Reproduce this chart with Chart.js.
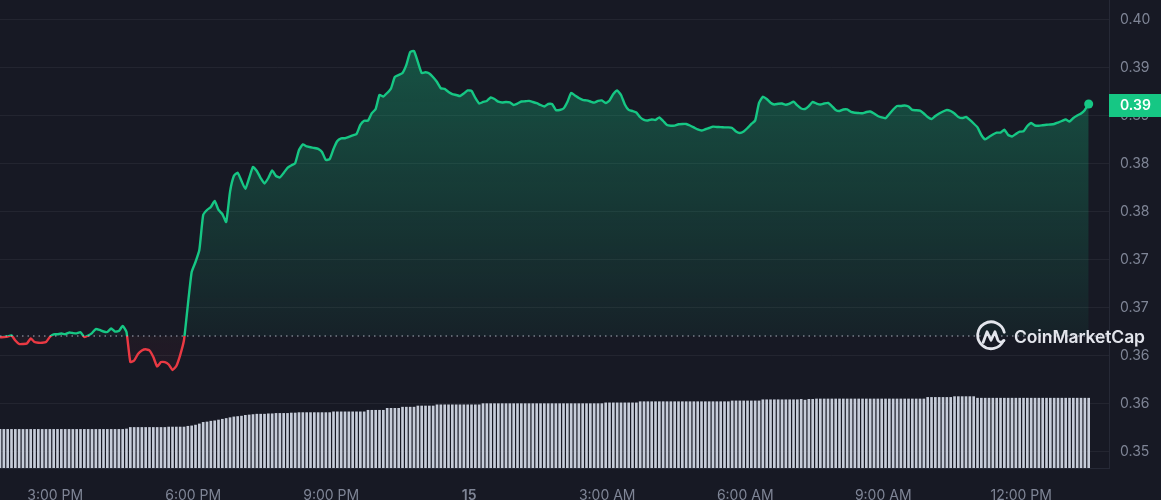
<!DOCTYPE html>
<html>
<head>
<meta charset="utf-8">
<script src="https://cdn.jsdelivr.net/npm/chart.js@4.4.1/dist/chart.umd.min.js"></script>
<style>
html,body{margin:0;padding:0;background:#171924;overflow:hidden;}
#wrap{position:relative;width:1161px;height:500px;}
canvas{display:block;}
#logo{position:absolute;left:975px;top:320px;display:flex;align-items:center;gap:7px;color:#e3e5ec;font-family:Inter,"Noto Sans",sans-serif;font-weight:600;font-size:17.5px;letter-spacing:-0.1px;pointer-events:none;}
#logo svg{display:block;}
</style>
</head>
<body>
<div id="wrap">
<canvas id="c" width="1161" height="500"></canvas>
<div id="logo">
<svg width="32" height="32" viewBox="0 0 30 30" fill="none" stroke="#e3e5ec" stroke-width="2.6" stroke-linecap="round" stroke-linejoin="round">
<path d="M26.6 19.5 A12.6 12.6 0 1 1 27.4 11.5"/>
<path d="M7.6 21 L11.3 11 L15 19 L18.7 11 L21.3 18.5 Q23.2 22.6 27.2 19.2"/>
</svg>
<span>CoinMarketCap</span>
</div>
</div>
<script>
// ---- data ----
const startMinute = 828;   // 1:48 PM on the 14th (minutes after midnight)
const stepMinutes = 5;
const openPrice = 0.36708;
const lastPriceLabel = '0.39';

const prices = [
0.36694,0.36698,0.36703,0.36715,0.36661,0.36625,0.36625,0.36630,0.36682,0.36646,
0.36638,0.36638,0.36646,0.36698,0.36726,0.36726,0.36734,0.36726,0.36744,0.36739,
0.36736,0.36747,0.36698,0.36713,0.36739,0.36781,0.36771,0.36755,0.36750,0.36786,
0.36755,0.36760,0.36812,0.36750,0.36437,0.36453,0.36521,0.36557,0.36570,0.36557,
0.36489,0.36390,0.36437,0.36437,0.36411,0.36354,0.36396,0.36510,0.36667,0.37031,
0.37375,0.37479,0.37604,0.37969,0.38021,0.38052,0.38115,0.38021,0.37979,0.37896,
0.38209,0.38375,0.38410,0.38323,0.38240,0.38354,0.38469,0.38427,0.38354,0.38297,
0.38354,0.38433,0.38375,0.38360,0.38407,0.38459,0.38485,0.38508,0.38646,0.38704,
0.38683,0.38674,0.38667,0.38657,0.38625,0.38542,0.38552,0.38657,0.38740,0.38768,
0.38768,0.38782,0.38797,0.38813,0.38907,0.38951,0.38951,0.39029,0.39073,0.39219,
0.39203,0.39240,0.39287,0.39407,0.39427,0.39448,0.39532,0.39667,0.39677,0.39563,
0.39448,0.39455,0.39443,0.39403,0.39354,0.39289,0.39282,0.39250,0.39229,0.39219,
0.39208,0.39235,0.39266,0.39261,0.39188,0.39130,0.39146,0.39157,0.39193,0.39177,
0.39149,0.39141,0.39146,0.39141,0.39115,0.39130,0.39151,0.39153,0.39157,0.39146,
0.39133,0.39115,0.39099,0.39125,0.39125,0.39063,0.39063,0.39078,0.39146,0.39240,
0.39214,0.39188,0.39169,0.39162,0.39151,0.39139,0.39157,0.39162,0.39136,0.39162,
0.39229,0.39266,0.39219,0.39120,0.39063,0.39052,0.39037,0.38987,0.38959,0.38953,
0.38964,0.38959,0.38985,0.38948,0.38907,0.38899,0.38899,0.38914,0.38917,0.38917,
0.38901,0.38881,0.38860,0.38849,0.38862,0.38875,0.38889,0.38886,0.38884,0.38882,
0.38881,0.38875,0.38839,0.38823,0.38839,0.38875,0.38917,0.38953,0.39136,0.39201,
0.39177,0.39139,0.39120,0.39127,0.39130,0.39117,0.39130,0.39149,0.39110,0.39078,
0.39073,0.39104,0.39146,0.39130,0.39120,0.39130,0.39136,0.39104,0.39063,0.39052,
0.39068,0.39068,0.39042,0.39034,0.39031,0.39028,0.39042,0.39047,0.39026,0.39000,
0.38985,0.38977,0.39021,0.39068,0.39104,0.39104,0.39110,0.39099,0.39063,0.39060,
0.39055,0.39026,0.38990,0.38969,0.39000,0.39026,0.39047,0.39063,0.39052,0.39026,
0.38990,0.38979,0.38990,0.38959,0.38922,0.38881,0.38802,0.38756,0.38782,0.38807,
0.38826,0.38828,0.38857,0.38802,0.38787,0.38813,0.38836,0.38841,0.38896,0.38927,
0.38901,0.38898,0.38904,0.38909,0.38912,0.38917,0.38932,0.38948,0.38964,0.38943,
0.38979,0.39005,0.39026,0.39063,0.39125
];

const volumes = [
9.9,9.9,9.9,9.9,9.9,9.9,9.9,9.9,9.9,9.9,
9.9,9.9,9.9,9.9,9.9,9.9,9.9,9.9,9.9,9.9,
9.9,9.9,9.9,9.9,9.9,9.9,9.9,9.9,9.9,9.9,
9.9,9.9,9.9,10.0,10.4,10.4,10.4,10.4,10.4,10.4,
10.4,10.4,10.4,10.4,10.5,10.5,10.5,10.5,10.5,10.7,
10.8,11.0,11.3,11.7,11.8,12.0,12.1,12.3,12.5,12.7,
12.9,13.1,13.2,13.3,13.5,13.6,13.7,13.8,13.8,13.8,
13.9,13.9,14.0,14.0,14.0,14.0,14.1,14.1,14.2,14.2,
14.2,14.2,14.2,14.2,14.2,14.2,14.2,14.4,14.4,14.4,
14.4,14.4,14.4,14.4,14.4,14.4,14.8,14.8,14.8,14.8,
14.8,15.3,15.3,15.3,15.3,15.6,15.6,15.6,15.6,15.9,
15.9,15.9,15.9,15.9,16.2,16.2,16.2,16.2,16.2,16.2,
16.2,16.2,16.2,16.2,16.2,16.2,16.5,16.5,16.5,16.5,
16.5,16.5,16.5,16.5,16.5,16.5,16.5,16.5,16.5,16.5,
16.5,16.5,16.5,16.5,16.5,16.5,16.5,16.5,16.5,16.5,
16.5,16.5,16.5,16.5,16.5,16.5,16.5,16.5,16.7,16.7,
16.7,16.7,16.7,16.7,16.7,16.7,16.7,17.0,17.0,17.0,
17.0,17.0,17.0,17.0,17.0,17.0,17.0,17.0,17.0,17.0,
17.0,17.0,17.0,17.0,17.0,17.0,17.0,17.0,17.0,17.0,
17.0,17.2,17.2,17.2,17.2,17.2,17.2,17.2,17.2,17.5,
17.5,17.5,17.5,17.5,17.5,17.5,17.5,17.5,17.5,17.6,
17.4,17.6,17.6,17.7,17.7,17.7,17.7,17.7,17.7,17.7,
17.7,17.7,17.7,17.7,17.7,17.7,17.7,17.7,17.7,17.7,
17.7,17.7,17.7,17.7,17.7,17.7,17.7,17.7,17.7,17.7,
17.7,17.7,18.1,18.1,18.1,18.1,18.1,18.1,18.1,18.3,
18.3,18.3,18.3,18.3,18.3,17.9,17.9,17.9,17.9,17.9,
17.9,17.9,17.9,17.9,17.9,17.9,17.9,17.9,17.9,17.9,
17.9,17.9,17.9,17.9,17.9,17.9,17.9,17.9,17.9,17.9,
17.9,17.9,17.9,17.9,17.9
];

const yTickValues = [0.400,0.395,0.390,0.385,0.380,0.375,0.370,0.365,0.360,0.355];
const yTickLabels = ['0.40','0.39','0.39','0.38','0.38','0.37','0.37','0.36','0.36','0.35'];
const xTickValues = [900,1080,1260,1440,1620,1800,1980,2160];
const xTickLabels = ['3:00 PM','6:00 PM','9:00 PM','15','3:00 AM','6:00 AM','9:00 AM','12:00 PM'];

// ---- build ----
const GREEN = '#16c784', RED = '#ea3943';
const pricePts = prices.map((v,i)=>({x:startMinute+i*stepMinutes,y:v}));
const volPts = volumes.map((v,i)=>({x:startMinute+i*stepMinutes,y:v}));
const xMin = 828, xMax = 2274.5;

function basePx(chart){ return chart.scales.y.getPixelForValue(openPrice); }
function lineGrad(c){
  const chart=c.chart, ca=chart.chartArea;
  if(!ca || !chart.scales.y) return GREEN;
  const g=chart.ctx.createLinearGradient(0,ca.top,0,ca.bottom);
  let off=(basePx(chart)-ca.top)/(ca.bottom-ca.top); off=Math.max(0,Math.min(1,off));
  g.addColorStop(0,GREEN); g.addColorStop(off,GREEN); g.addColorStop(off,RED); g.addColorStop(1,RED);
  return g;
}
function fillGrad(c){
  const chart=c.chart, ca=chart.chartArea;
  if(!ca || !chart.scales.y) return 'rgba(22,199,132,0.2)';
  const g=chart.ctx.createLinearGradient(0,ca.top,0,ca.bottom);
  let off=(basePx(chart)-ca.top)/(ca.bottom-ca.top); off=Math.max(0,Math.min(1,off));
  g.addColorStop(0,'rgba(22,199,132,0.38)');
  g.addColorStop(off,'rgba(22,199,132,0.05)');
  g.addColorStop(off,'rgba(234,57,67,0.04)');
  g.addColorStop(1,'rgba(234,57,67,0.08)');
  return g;
}

const tagPlugin = {
  id:'tag',
  afterDraw(chart){
    const ctx=chart.ctx, ca=chart.chartArea;
    const y=chart.scales.y.getPixelForValue(prices[prices.length-1]);
    ctx.save();
    ctx.fillStyle=GREEN;
    ctx.fillRect(ca.right, Math.round(y-10), chart.width-ca.right, 23);
    ctx.fillStyle='#ffffff';
    ctx.font='600 14px Inter, sans-serif';
    ctx.textBaseline='middle'; ctx.textAlign='left';
    ctx.fillText(lastPriceLabel, ca.right+11, y+1.5);
    ctx.restore();
  }
};

Chart.defaults.font.family = 'Inter, "Noto Sans", sans-serif';

new Chart(document.getElementById('c'), {
  type:'bar',
  data:{
    datasets:[
      {
        type:'line', label:'base', data:[{x:xMin,y:openPrice},{x:xMax,y:openPrice}],
        xAxisID:'x', yAxisID:'y', borderColor:'rgba(185,190,205,0.6)', borderWidth:1.5,
        borderDash:[1.5,4], pointRadius:0, fill:false, order:0
      },
      {
        type:'line', label:'price', data:pricePts, xAxisID:'x', yAxisID:'y',
        borderWidth:2.4, tension:0.15,
        borderColor:lineGrad, backgroundColor:fillGrad,
        fill:{value:openPrice},
        pointRadius:(c)=> c.dataIndex===prices.length-1 ? 4.5 : 0,
        pointBackgroundColor:GREEN, pointBorderWidth:0, pointHoverRadius:0,
        order:1
      },
      {
        type:'bar', label:'volume', data:volPts, xAxisID:'x', yAxisID:'v',
        backgroundColor:'#c6ccd9', borderWidth:0, barThickness:2, order:2
      }
    ]
  },
  options:{
    responsive:false, animation:false, devicePixelRatio:1,
    layout:{padding:0, autoPadding:false},
    plugins:{legend:{display:false}, tooltip:{enabled:false}},
    events:[],
    scales:{
      x:{
        type:'linear', min:xMin, max:xMax, offset:false,
        grid:{display:false, offset:false},
        border:{display:true, color:'#262936'},
        afterBuildTicks(s){ s.ticks = xTickValues.map(v=>({value:v})); },
        afterFit(s){ s.height = 32; s.paddingLeft = 0; s.paddingRight = 0; },
        ticks:{
          autoSkip:false, maxRotation:0, padding:11, color:'#7f8596',
          font:(c)=>({size:14, weight: (c.tick && c.tick.value===1440) ? '600' : '400'}),
          callback:(v,i)=> xTickLabels[i]
        }
      },
      y:{
        type:'linear', position:'right', min:0.353333, max:0.402083,
        grid:{color:'rgba(255,255,255,0.055)', drawTicks:false},
        border:{display:true, color:'#262936'},
        afterBuildTicks(s){ s.ticks = yTickValues.map(v=>({value:v})); },
        afterFit(s){ s.width = 52; s.paddingTop = 0; s.paddingBottom = 0; },
        ticks:{ padding:11, color:'#7f8596', font:{size:14}, callback:(v,i)=> yTickLabels[i] }
      },
      v:{ type:'linear', display:false, min:0, max:120 }
    }
  },
  plugins:[tagPlugin]
});
</script>
</body>
</html>
